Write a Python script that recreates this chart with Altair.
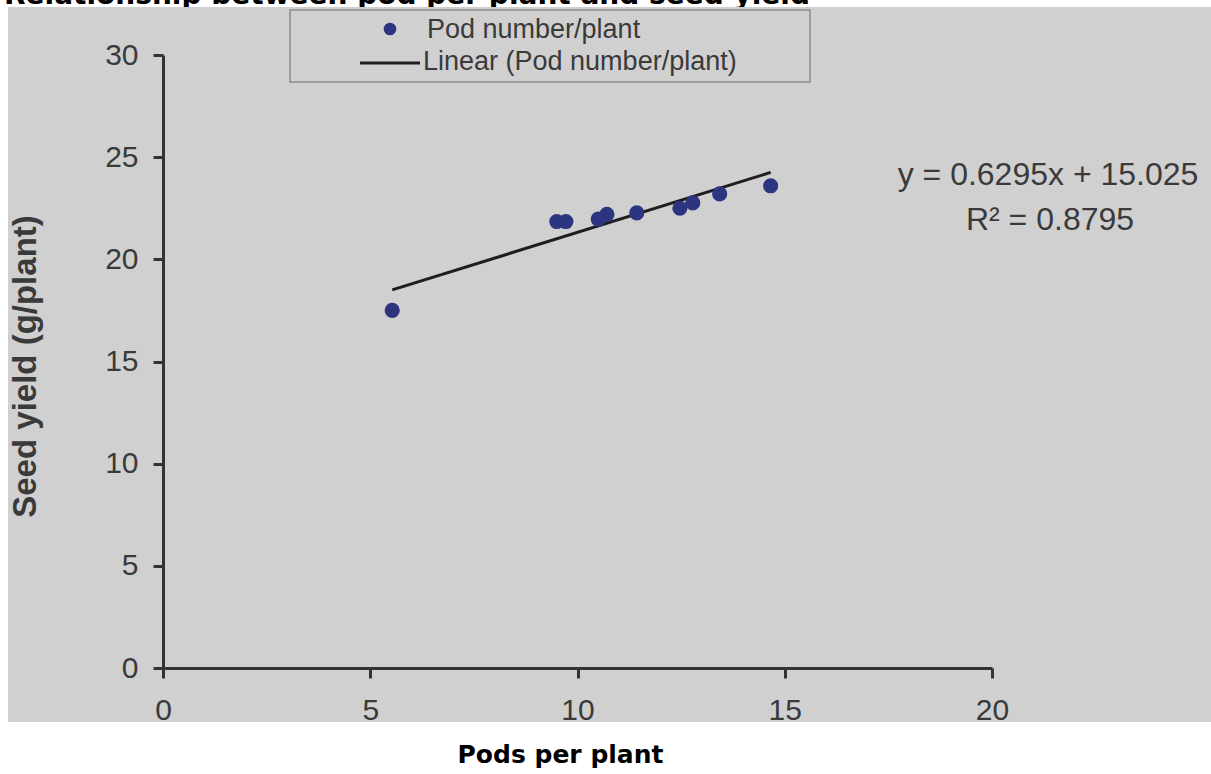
import altair as alt
import pandas as pd

# ---- data ----
pods_per_plant = [5.53, 9.5, 9.72, 10.5, 10.71, 11.43, 12.47, 12.78, 13.43, 14.66]
seed_yield = [17.5, 21.85, 21.85, 21.97, 22.2, 22.27, 22.5, 22.76, 23.2, 23.6]

slope = 0.6295
intercept = 15.025
r_squared = 0.8795

x_ticks = [0, 5, 10, 15, 20]
y_ticks = [0, 5, 10, 15, 20, 25, 30]

chart_title = "Relationship between pod per plant and seed yield"
legend_labels = ["Pod number/plant", "Linear (Pod number/plant)"]
x_title = "Pods per plant"
y_title = "Seed yield (g/plant)"

# ---- layout (plot area in page pixels) ----
PL, PT, PW, PH = 163, 55, 829, 613
W, H = 1211, 774

def rx(px):
    return px - PL

def ry(py):
    return py - PT

pts = pd.DataFrame({"pods": pods_per_plant, "yield": seed_yield})
xmin, xmax = min(pods_per_plant), max(pods_per_plant)
trend = pd.DataFrame({"pods": [xmin, xmax],
                      "yield": [slope * xmin + intercept, slope * xmax + intercept]})

one = pd.DataFrame({"k": [0]})

TEXT = "#3a3a3a"
NAVY = "#2d3580"
AXIS = "#333333"
ARIAL = "Liberation Sans, Arial, sans-serif"
HEAVY = "DejaVu Sans, sans-serif"

xs = alt.Scale(domain=[0, 20], nice=False, zero=False)
ys = alt.Scale(domain=[0, 30], nice=False, zero=False)

# title (partly hidden behind the photo, as in the source)
title_mark = alt.Chart(pd.DataFrame({"t": [chart_title]})).mark_text(
    font=HEAVY, fontWeight="bold", fontSize=28, color="black",
    align="right", baseline="alphabetic"
).encode(text="t:N", x=alt.value(rx(810)), y=alt.value(ry(4)))

# photo background
bg = alt.Chart(one).mark_rect(color="#d0d0d0").encode(
    x=alt.value(rx(8)), x2=alt.value(rx(1215)),
    y=alt.value(ry(7)), y2=alt.value(ry(722))
)

# legend box
leg_box = alt.Chart(one).mark_rect(
    fillOpacity=0, stroke="#8c8c8c", strokeWidth=1.5
).encode(x=alt.value(rx(290)), x2=alt.value(rx(810)),
         y=alt.value(ry(10)), y2=alt.value(ry(82)))

leg_dot = alt.Chart(one).mark_point(
    filled=True, shape="circle", size=160, color=NAVY, opacity=1
).encode(x=alt.value(rx(390)), y=alt.value(ry(29)))

leg_line = alt.Chart(one).mark_rule(color="#1e1e1e", strokeWidth=3).encode(
    x=alt.value(rx(360)), x2=alt.value(rx(420)), y=alt.value(ry(63))
)

leg_t1 = alt.Chart(pd.DataFrame({"t": [legend_labels[0]]})).mark_text(
    font=ARIAL, fontSize=27, color=TEXT, align="left", baseline="alphabetic"
).encode(text="t:N", x=alt.value(rx(427)), y=alt.value(ry(38)))

leg_t2 = alt.Chart(pd.DataFrame({"t": [legend_labels[1]]})).mark_text(
    font=ARIAL, fontSize=27, color=TEXT, align="left", baseline="alphabetic"
).encode(text="t:N", x=alt.value(rx(423)), y=alt.value(ry(70)))

# scatter
scatter = alt.Chart(pts).mark_point(
    filled=True, shape="circle", size=230, color=NAVY, opacity=1
).encode(
    x=alt.X("pods:Q", scale=xs, title=x_title,
            axis=alt.Axis(values=x_ticks, grid=False, zindex=1,
                          domainColor=AXIS, domainWidth=3,
                          tickColor=AXIS, tickWidth=3, tickSize=10,
                          labelFont=ARIAL, labelFontSize=30, labelColor=TEXT,
                          labelPadding=17, labelFlush=False, labelOverlap=False,
                          labelBaseline="top",
                          titleFont=HEAVY, titleFontWeight="bold", titleFontSize=25,
                          titleColor="black", titleX=560 - PL, titleY=94,
                          titleAlign="center", titleBaseline="alphabetic")),
    y=alt.Y("yield:Q", scale=ys, title=y_title,
            axis=alt.Axis(values=y_ticks, grid=False, zindex=1,
                          domainColor=AXIS, domainWidth=3,
                          tickColor=AXIS, tickWidth=3, tickSize=10,
                          labelFont=ARIAL, labelFontSize=30, labelColor=TEXT,
                          labelPadding=15, labelOverlap=False, labelFlush=False,
                          titleFont=ARIAL, titleFontWeight="bold", titleFontSize=33,
                          titleColor=TEXT, titleAngle=270,
                          titleX=25 - PL, titleY=366 - PT,
                          titleAlign="center", titleBaseline="middle")),
)

trend_line = alt.Chart(trend).mark_line(color="#1e1e1e", strokeWidth=3).encode(
    x=alt.X("pods:Q", scale=xs), y=alt.Y("yield:Q", scale=ys)
)

eq1 = alt.Chart(pd.DataFrame({"t": [f"y = {slope}x + {intercept}"]})).mark_text(
    font=ARIAL, fontSize=32, color=TEXT, align="center", baseline="alphabetic"
).encode(text="t:N", x=alt.value(rx(1048)), y=alt.value(ry(185)))

eq2 = alt.Chart(pd.DataFrame({"t": [f"R\u00b2 = {r_squared}"]})).mark_text(
    font=ARIAL, fontSize=32, color=TEXT, align="center", baseline="alphabetic"
).encode(text="t:N", x=alt.value(rx(1050)), y=alt.value(ry(230)))

chart = alt.layer(
    title_mark, bg, leg_box, leg_dot, leg_line, leg_t1, leg_t2,
    trend_line, scatter, eq1, eq2
).properties(
    width=PW, height=PH,
    autosize=alt.AutoSizeParams(type="none"),
    padding={"left": PL, "top": PT, "right": W - PL - PW, "bottom": H - PT - PH},
    background="white",
).configure_view(stroke=None)

chart.save("out.html", embed_options={"renderer": "svg", "actions": False})
